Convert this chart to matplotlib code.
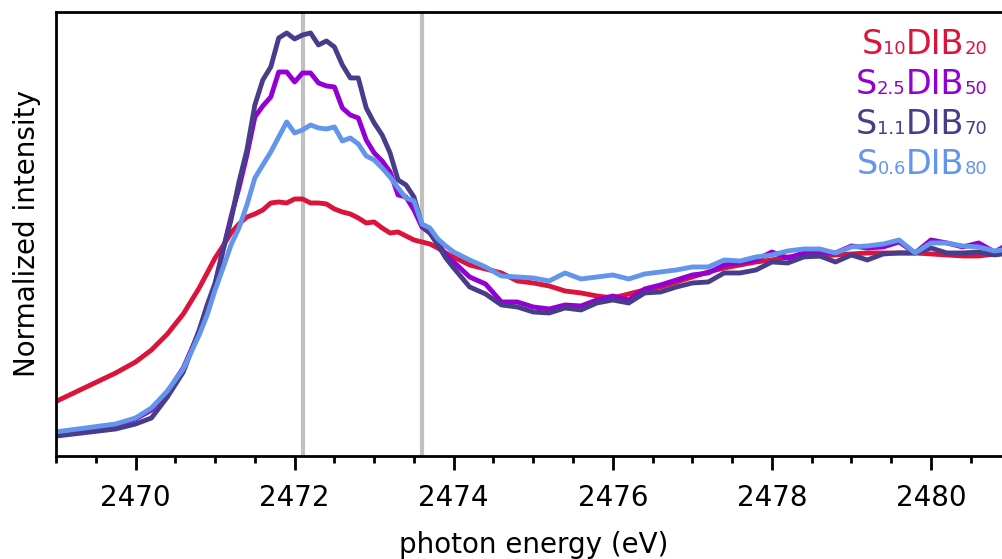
import numpy as np
import matplotlib.pyplot as plt
from matplotlib.ticker import MultipleLocator
from matplotlib.offsetbox import TextArea, HPacker, VPacker, AnchoredOffsetbox

# photon energy grid (eV)
energy = [2468.8, 2469.75, 2470.0, 2470.2, 2470.4, 2470.6, 2470.8,
          2470.9, 2471.0, 2471.1, 2471.2, 2471.3, 2471.4, 2471.5, 2471.6,
          2471.7, 2471.8, 2471.9, 2472.0, 2472.1, 2472.2, 2472.3, 2472.4,
          2472.5, 2472.6, 2472.7, 2472.8, 2472.9, 2473.0, 2473.1, 2473.2,
          2473.3, 2473.4, 2473.5, 2473.6, 2473.7, 2473.8, 2473.9, 2474.0,
          2474.2, 2474.4, 2474.6, 2474.8, 2475.0, 2475.2, 2475.4, 2475.6,
          2475.8, 2476.0, 2476.2, 2476.4, 2476.6, 2476.8, 2477.0, 2477.2,
          2477.4, 2477.6, 2477.8, 2478.0, 2478.2, 2478.4, 2478.6, 2478.8,
          2479.0, 2479.2, 2479.4, 2479.6, 2479.8, 2480.0, 2480.2, 2480.4,
          2480.6, 2480.8, 2481.0]

s10_dib20 = [0.235, 0.415, 0.47, 0.53, 0.61, 0.71, 0.84,
             0.915, 0.99, 1.05, 1.115, 1.16, 1.195, 1.21, 1.23,
             1.265, 1.27, 1.265, 1.285, 1.285, 1.265, 1.265, 1.26,
             1.235, 1.22, 1.21, 1.19, 1.165, 1.17, 1.14, 1.115,
             1.12, 1.10, 1.08, 1.07, 1.06, 1.04, 1.015, 0.995,
             0.955, 0.935, 0.915, 0.875, 0.865, 0.85, 0.825, 0.815,
             0.80, 0.79, 0.81, 0.83, 0.845, 0.87, 0.895, 0.92,
             0.94, 0.955, 0.97, 0.98, 0.995, 1.0, 1.0, 1.005,
             1.01, 1.015, 1.015, 1.015, 1.015, 1.01, 1.005, 1.0,
             1.0, 1.01, 1.015]

s25_dib50 = [0.105, 0.155, 0.185, 0.23, 0.32, 0.44, 0.62,
             0.73, 0.855, 1.03, 1.195, 1.34, 1.505, 1.695, 1.75,
             1.795, 1.92, 1.92, 1.87, 1.915, 1.915, 1.865, 1.85,
             1.845, 1.74, 1.705, 1.69, 1.58, 1.515, 1.475, 1.42,
             1.305, 1.295, 1.23, 1.145, 1.115, 1.065, 1.005, 0.97,
             0.895, 0.86, 0.77, 0.77, 0.745, 0.735, 0.755, 0.75,
             0.78, 0.80, 0.78, 0.835, 0.855, 0.88, 0.905, 0.915,
             0.955, 0.965, 0.98, 1.02, 0.99, 1.015, 1.02, 1.015,
             1.05, 1.04, 1.045, 1.07, 1.015, 1.08, 1.065, 1.045,
             1.065, 1.02, 1.065]

s11_dib70 = [0.09, 0.135, 0.16, 0.19, 0.295, 0.42, 0.63,
             0.755, 0.865, 1.03, 1.18, 1.37, 1.53, 1.755, 1.88,
             1.945, 2.09, 2.115, 2.085, 2.105, 2.115, 2.055, 2.075,
             2.045, 1.955, 1.89, 1.89, 1.74, 1.665, 1.605, 1.515,
             1.38, 1.355, 1.295, 1.155, 1.115, 1.055, 0.99, 0.94,
             0.845, 0.81, 0.755, 0.745, 0.72, 0.715, 0.74, 0.73,
             0.765, 0.78, 0.765, 0.815, 0.82, 0.845, 0.865, 0.87,
             0.915, 0.915, 0.93, 0.97, 0.965, 0.995, 1.0, 0.97,
             1.005, 0.98, 1.01, 1.015, 1.015, 1.04, 1.015, 1.015,
             1.02, 1.005, 1.015]

s06_dib80 = [0.11, 0.16, 0.19, 0.24, 0.325, 0.435, 0.605,
             0.705, 0.83, 0.94, 1.055, 1.14, 1.255, 1.39, 1.455,
             1.52, 1.595, 1.67, 1.615, 1.63, 1.655, 1.64, 1.635,
             1.645, 1.575, 1.59, 1.56, 1.50, 1.48, 1.44, 1.395,
             1.34, 1.29, 1.275, 1.16, 1.14, 1.085, 1.05, 1.02,
             0.98, 0.945, 0.90, 0.895, 0.89, 0.875, 0.915, 0.885,
             0.895, 0.905, 0.885, 0.91, 0.92, 0.93, 0.945, 0.945,
             0.98, 0.975, 0.995, 1.005, 1.025, 1.035, 1.035, 1.015,
             1.045, 1.05, 1.06, 1.08, 1.015, 1.065, 1.065, 1.05,
             1.045, 1.025, 1.035]

# composition labels: S_x DIB_y
sulfur = ['10', '2.5', '1.1', '0.6']
dib = ['20', '50', '70', '80']
colors = ['crimson', 'darkviolet', 'darkslateblue', 'cornflowerblue']
peaks = [2472.1, 2473.6]

fig = plt.figure(figsize=(10.02, 5.59), dpi=100)
ax = fig.add_axes([0.0559, 0.1843, 0.9526, 0.7943])

for e in peaks:
    ax.axvline(e, color='silver', lw=3, zorder=1)

series = [s10_dib20, s25_dib50, s11_dib70, s06_dib80]
for y, c in zip(series, colors):
    ax.plot(energy, y, color=c, lw=3.5, zorder=2)

ax.set_xlim(2469, 2481)
ax.set_ylim(0, 2.22)
ax.set_yticks([])
ax.xaxis.set_major_locator(MultipleLocator(2))
ax.xaxis.set_minor_locator(MultipleLocator(0.5))
ax.tick_params(axis='x', which='major', length=10, width=2, labelsize=20, pad=10)
ax.tick_params(axis='x', which='minor', length=5, width=2)
for s in ax.spines.values():
    s.set_linewidth(2)

ax.set_xlabel('photon energy (eV)', fontsize=20, labelpad=14)
ax.set_ylabel('Normalized intensity', fontsize=20, labelpad=11)

# legend built from text pieces so the small indices sit on the baseline
rows = []
for sx, dy, c in zip(sulfur, dib, colors):
    big = dict(color=c, size=24)
    small = dict(color=c, size=13)
    rows.append(HPacker(children=[TextArea('S', textprops=big),
                                  TextArea(sx, textprops=small),
                                  TextArea('DIB', textprops=big),
                                  TextArea(dy, textprops=small)],
                        align='baseline', pad=0, sep=0))
box = VPacker(children=rows, align='right', pad=0, sep=5)
anchored = AnchoredOffsetbox(loc='upper right', child=box, frameon=False,
                             pad=0, borderpad=0,
                             bbox_to_anchor=(987 / 1002, 1 - 28 / 559),
                             bbox_transform=fig.transFigure)
ax.add_artist(anchored)

fig.savefig('out.png', dpi=100)
